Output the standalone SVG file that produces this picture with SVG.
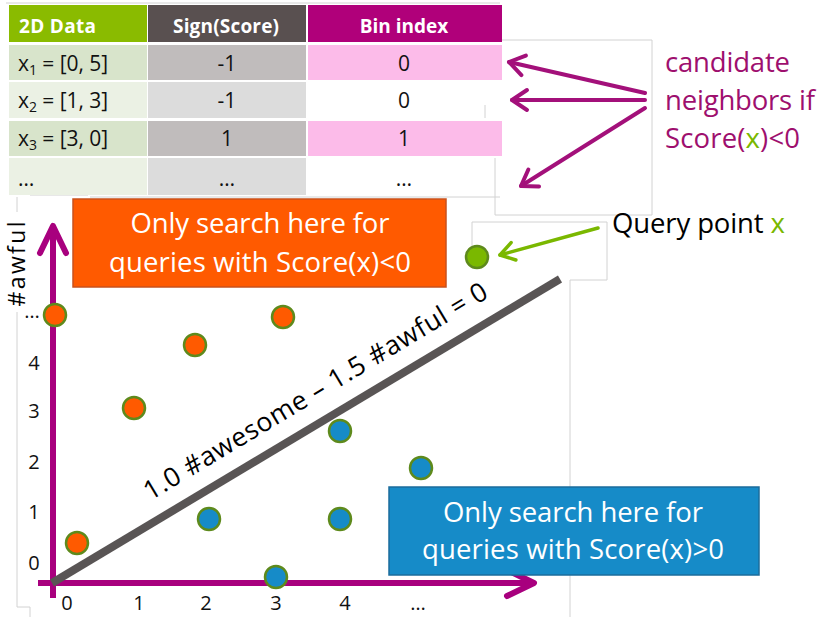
<svg xmlns="http://www.w3.org/2000/svg" width="821" height="617" viewBox="0 0 821 617">
<defs>
<style>
text{font-family:"Open Sans","Noto Sans","Liberation Sans",sans-serif}
.hd{font-size:19px;font-weight:bold;fill:#fff}
.cell{font-size:21px;fill:#111}
.mid{text-anchor:middle}
.big{font-size:27.5px}
.wt{fill:#fff}
.tick{font-size:20px;fill:#111;text-anchor:middle}
.faint{fill:none;stroke:#d2d2d2;stroke-width:1}
.pt{stroke:#5e8a1c;stroke-width:2.5}
.or{fill:#ff5a00}
.bl{fill:#168bc8}
.mag{fill:none;stroke:#a3107a;stroke-width:4;stroke-linecap:round}
.axis{fill:none;stroke:#a8007e;stroke-width:6}
</style>
<marker id="mhead" viewBox="-20 -14 24 28" markerWidth="24" markerHeight="28" refX="0" refY="0" orient="auto" markerUnits="userSpaceOnUse">
<path d="M-15,-10 L0,0 L-15,10" fill="none" stroke="#a3107a" stroke-width="4" stroke-linecap="round" stroke-linejoin="round"/>
</marker>
<marker id="ghead" viewBox="-20 -14 24 28" markerWidth="24" markerHeight="28" refX="0" refY="0" orient="auto" markerUnits="userSpaceOnUse">
<path d="M-14,-9 L0,0 L-14,9" fill="none" stroke="#7ab800" stroke-width="3.5" stroke-linecap="round" stroke-linejoin="round"/>
</marker>
<marker id="ahead" viewBox="-32 -18 36 36" markerWidth="36" markerHeight="36" refX="0" refY="0" orient="auto" markerUnits="userSpaceOnUse">
<path d="M-27,-13 L0,0 L-27,13" fill="none" stroke="#a8007e" stroke-width="6" stroke-linecap="round" stroke-linejoin="round"/>
</marker>
</defs>
<rect x="0" y="0" width="821" height="617" fill="#fff"/>

<g id="faint-frames">
<path class="faint" d="M6,3 H500"/>
<path class="faint" d="M502,40 H652 V215 H495 V158"/>
<path class="faint" d="M485,105 V118"/>
<path class="faint" d="M30,195 H88 M90,197 H500"/>
<path class="faint" d="M472,268 V222 H607 V280 H570 V617"/>
<path class="faint" d="M17,197 V212 M17,312 V607 H30 V617"/>
</g>

<g id="table">
<rect x="9" y="5" width="138" height="37" fill="#8abb00"/>
<rect x="148" y="5" width="158" height="37" fill="#595050"/>
<rect x="308" y="5" width="194" height="37" fill="#b0007a"/>
<text class="hd" x="19" y="33" textLength="77">2D Data</text>
<text class="hd mid" x="226" y="33" textLength="106">Sign(Score)</text>
<text class="hd mid" x="404" y="33">Bin index</text>

<rect x="9" y="45" width="138" height="35" fill="#d8e4cb"/>
<rect x="148" y="45" width="158" height="35" fill="#c0bcbc"/>
<rect x="308" y="45" width="194" height="35" fill="#fcbbe9"/>
<rect x="9" y="82" width="138" height="36" fill="#ebf1e4"/>
<rect x="148" y="82" width="158" height="36" fill="#dcdcdc"/>
<rect x="9" y="121" width="138" height="35" fill="#d8e4cb"/>
<rect x="148" y="121" width="158" height="35" fill="#c0bcbc"/>
<rect x="308" y="121" width="194" height="35" fill="#fcbbe9"/>
<rect x="9" y="158" width="138" height="37" fill="#ebf1e4"/>
<rect x="148" y="158" width="158" height="37" fill="#dcdcdc"/>

<text class="cell" x="18" y="71" textLength="90">x<tspan font-size="14" dy="4">1</tspan><tspan dy="-4"> = [0, 5]</tspan></text>
<text class="cell" x="18" y="108" textLength="90">x<tspan font-size="14" dy="4">2</tspan><tspan dy="-4"> = [1, 3]</tspan></text>
<text class="cell" x="18" y="146" textLength="90">x<tspan font-size="14" dy="4">3</tspan><tspan dy="-4"> = [3, 0]</tspan></text>
<text class="cell" x="18" y="186">…</text>
<text class="cell mid" x="227" y="71">-1</text>
<text class="cell mid" x="227" y="108">-1</text>
<text class="cell mid" x="227" y="146">1</text>
<text class="cell mid" x="227" y="186">…</text>
<text class="cell mid" x="404" y="71">0</text>
<text class="cell mid" x="404" y="108">0</text>
<text class="cell mid" x="404" y="146">1</text>
<text class="cell mid" x="404" y="186">…</text>
</g>

<g id="candidate-label">
<text class="big" x="665" y="72" fill="#9e0f6e" textLength="125">candidate</text>
<text class="big" x="665" y="110" fill="#9e0f6e" textLength="150">neighbors if</text>
<text class="big" x="665" y="148" fill="#9e0f6e" textLength="135">Score(<tspan fill="#7ab800">x</tspan>)&lt;0</text>
</g>

<g id="query-label">
<text class="big" x="612" y="233" fill="#000" textLength="173">Query point <tspan fill="#7ab800">x</tspan></text>
</g>

<g id="orange-box">
<rect x="73" y="199" width="373" height="88" fill="#ff5a00" stroke="#c9521c" stroke-width="1.5"/>
<text class="big wt mid" x="260" y="233" textLength="259">Only search here for</text>
<text class="big wt mid" x="260" y="272" textLength="302">queries with Score(x)&lt;0</text>
</g>

<g id="axes">
<line class="axis" x1="53" y1="598" x2="53" y2="226" marker-end="url(#ahead)"/>
<line class="axis" x1="38" y1="583" x2="534" y2="583" marker-end="url(#ahead)"/>
<text font-size="23" fill="#000" transform="translate(25,264) rotate(-90)" text-anchor="middle" textLength="85">#awful</text>
<text class="tick" x="34" y="570">0</text>
<text class="tick" x="34" y="519">1</text>
<text class="tick" x="34" y="469">2</text>
<text class="tick" x="34" y="418">3</text>
<text class="tick" x="34" y="370">4</text>
<text class="tick" x="32" y="318">…</text>
<text class="tick" x="67" y="610">0</text>
<text class="tick" x="139" y="610">1</text>
<text class="tick" x="206" y="610">2</text>
<text class="tick" x="276" y="610">3</text>
<text class="tick" x="345" y="610">4</text>
<text class="tick" x="418" y="610">…</text>
</g>

<g id="decision-line">
<line x1="52" y1="583" x2="560" y2="279" stroke="#595555" stroke-width="8"/>
<text font-size="26.5" fill="#000" text-anchor="middle" transform="translate(320,399) rotate(-31)" textLength="396">1.0 #awesome – 1.5 #awful = 0</text>
</g>

<g id="points">
<circle class="pt or" cx="55" cy="315" r="11"/>
<circle class="pt or" cx="283" cy="317" r="11"/>
<circle class="pt or" cx="195" cy="345" r="11"/>
<circle class="pt or" cx="134" cy="408" r="11"/>
<circle class="pt or" cx="77" cy="543" r="11"/>
<circle class="pt bl" cx="340" cy="431" r="11"/>
<circle class="pt bl" cx="421" cy="468" r="11"/>
<circle class="pt bl" cx="209" cy="519" r="11"/>
<circle class="pt bl" cx="340" cy="519" r="11"/>
<circle class="pt bl" cx="276" cy="577" r="11"/>
<circle cx="477" cy="257" r="11" fill="#7ab800" stroke="#5e8a1c" stroke-width="2.5"/>
</g>

<g id="blue-box">
<rect x="389" y="487" width="370" height="88" fill="#168bc8" stroke="#1b6c9c" stroke-width="1.5"/>
<text class="big wt mid" x="573" y="522" textLength="260">Only search here for</text>
<text class="big wt mid" x="573" y="559" textLength="302">queries with Score(x)&gt;0</text>
</g>

<g id="connectors">
<line class="mag" x1="645" y1="93" x2="509" y2="62" marker-end="url(#mhead)"/>
<line class="mag" x1="645" y1="100" x2="512" y2="100" marker-end="url(#mhead)"/>
<line class="mag" x1="645" y1="108" x2="521" y2="186" marker-end="url(#mhead)"/>
<line x1="598" y1="228" x2="500" y2="255" stroke="#7ab800" stroke-width="3.5" stroke-linecap="round" marker-end="url(#ghead)"/>
</g>
</svg>
